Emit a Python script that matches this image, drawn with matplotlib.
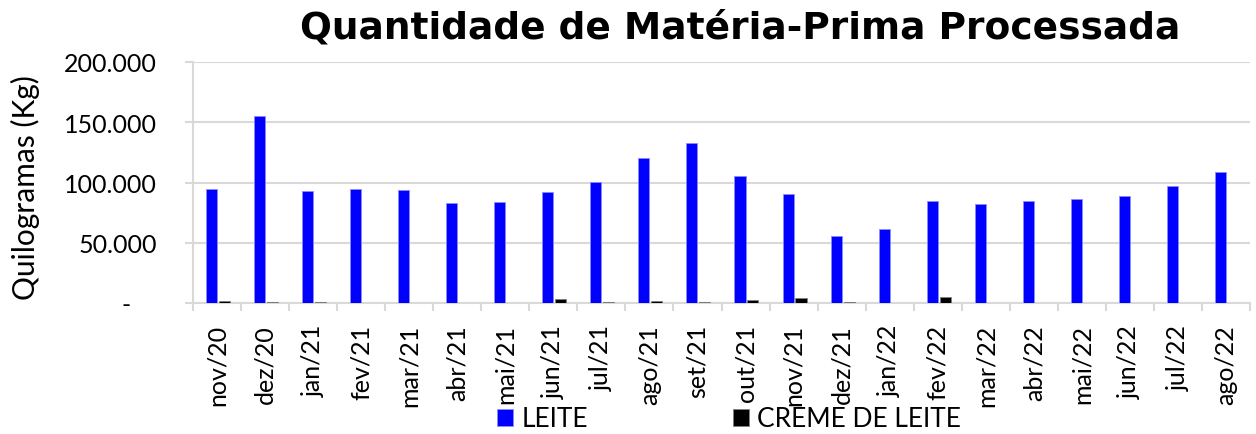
import matplotlib
matplotlib.use("Agg")
import matplotlib.pyplot as plt
from matplotlib.ticker import FuncFormatter, FixedLocator
import numpy as np

months = ["nov/20", "dez/20", "jan/21", "fev/21", "mar/21", "abr/21", "mai/21",
          "jun/21", "jul/21", "ago/21", "set/21", "out/21", "nov/21", "dez/21",
          "jan/22", "fev/22", "mar/22", "abr/22", "mai/22", "jun/22", "jul/22", "ago/22"]
leite = [94600, 155000, 92700, 94600, 93800, 82700, 83800, 92400, 100200, 120300,
         132800, 105100, 90500, 55400, 61400, 84600, 82200, 84600, 86000, 88500,
         97100, 108700]
creme = [2000, 1000, 700, 400, 400, 300, 0, 3000, 1000, 1500, 500, 2500, 4500,
         500, 0, 5000, 400, 400, 0, 200, 200, 400]
yticks = [0, 50000, 100000, 150000, 200000]

plt.rcParams['font.family'] = ['Lato', 'DejaVu Sans']

fig = plt.figure(figsize=(12.56, 4.35), dpi=100)
ax = fig.add_axes([193/1256, 1-304/435, (1250-193)/1256, (304-63)/435])

x = np.arange(len(months))
w = 0.23
ax.bar(x - 0.115, leite, width=w, color='#0000ff', edgecolor='#8c8cff', linewidth=0.6,
       label='LEITE', zorder=3)
ax.bar(x + 0.155, creme, width=w, color='#000000', edgecolor='#7f7f7f', linewidth=0.6,
       label='CREME DE LEITE', zorder=3)

ax.set_xlim(-0.5, len(months) - 0.5)
ax.set_ylim(0, 200000)
ax.yaxis.set_major_locator(FixedLocator(yticks))

def fmt(v, pos):
    if v == 0:
        return '-    '
    return f"{int(v):,}".replace(',', '.')
ax.yaxis.set_major_formatter(FuncFormatter(fmt))

ax.set_xticks(x)
ax.set_xticklabels(months, rotation=90)
ax.set_xticks(np.arange(len(months) + 1) - 0.5, minor=True)
ax.tick_params(axis='x', which='major', length=0, pad=15, labelsize=18, colors='black')
ax.tick_params(axis='x', which='minor', length=6, width=1.5, color='#d9d9d9', direction='out')
ax.tick_params(axis='y', which='major', length=6, width=1.5, color='#d9d9d9', pad=20,
               labelsize=18)

ax.grid(axis='y', color='#d9d9d9', linewidth=1.5, zorder=0)
for s in ['top', 'right']:
    ax.spines[s].set_visible(False)
ax.spines['left'].set_color('#d9d9d9')
ax.spines['left'].set_linewidth(1.5)
ax.spines['bottom'].set_color('#d9d9d9')
ax.spines['bottom'].set_linewidth(1.5)

fig.text(25/1256, 1-188/435, 'Quilogramas (Kg)', rotation=90, ha='center', va='center',
         fontsize=21.5)
fig.text(740/1256, 1-28/435, 'Quantidade de Matéria-Prima Processada', ha='center',
         va='center', fontsize=27, fontweight='bold', family=['DejaVu Sans'])

fig.legend(loc='center', bbox_to_anchor=(729/1256, 1-420/435), ncol=2, frameon=False,
           fontsize=19, handlelength=0.6, handleheight=0.6, columnspacing=5.5,
           handletextpad=0.3, borderaxespad=0)

fig.savefig('out.png', dpi=100)
